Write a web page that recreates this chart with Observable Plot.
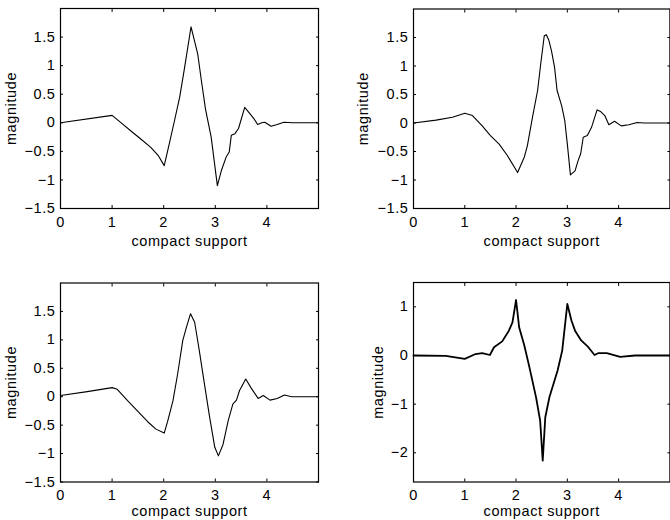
<!DOCTYPE html>
<html><head><meta charset="utf-8">
<script src="https://cdn.jsdelivr.net/npm/d3@7"></script>
<script src="https://cdn.jsdelivr.net/npm/@observablehq/plot@0.6"></script>
<style>
body{margin:0;background:#fff}
#fig{position:relative;width:670px;height:520px;overflow:hidden;background:#fff}
.p{position:absolute}
#fig svg text{font-family:'Liberation Sans', Arial, sans-serif;font-size:14.5px;letter-spacing:0.6px;fill:#000}
</style>
</head><body><div id="fig"></div>
<script>
const xLabel = "compact support";
const yLabel = "magnitude";
const xTicks = [0, 1, 2, 3, 4];
const yTicksA = [-1.5, -1, -0.5, 0, 0.5, 1, 1.5];
const yTicksB = [-2, -1, 0, 1];

const s1x = [0, 1.0, 1.2, 1.4, 1.55, 1.75, 1.9, 2.01, 2.1, 2.21, 2.31, 2.4, 2.53, 2.66, 2.73, 2.81, 2.92, 3.04, 3.12, 3.21, 3.27, 3.31, 3.38, 3.45, 3.57, 3.67, 3.75, 3.82, 3.9, 3.96, 4.08, 4.2, 4.33, 4.5, 5.0];
const s1y = [0, 0.13, -0.02, -0.17, -0.28, -0.43, -0.58, -0.75, -0.4, 0.04, 0.45, 0.94, 1.68, 1.2, 0.74, 0.24, -0.25, -1.1, -0.83, -0.6, -0.51, -0.22, -0.19, -0.1, 0.27, 0.16, 0.07, -0.03, 0.0, 0.01, -0.06, -0.03, 0.01, 0, 0];

const s2x = [0, 0.44, 0.76, 1.0, 1.15, 1.34, 1.5, 1.67, 1.83, 2.03, 2.16, 2.22, 2.32, 2.42, 2.48, 2.55, 2.59, 2.64, 2.69, 2.75, 2.8, 2.89, 2.95, 3.0, 3.06, 3.15, 3.21, 3.26, 3.31, 3.39, 3.47, 3.58, 3.65, 3.73, 3.81, 3.92, 4.05, 4.2, 4.36, 4.5, 5];
const s2y = [0, 0.05, 0.10, 0.17, 0.13, -0.05, -0.22, -0.37, -0.57, -0.87, -0.6, -0.4, 0.1, 0.57, 1.03, 1.53, 1.55, 1.45, 1.27, 0.98, 0.57, 0.30, 0.04, -0.37, -0.91, -0.84, -0.66, -0.54, -0.25, -0.22, -0.08, 0.23, 0.2, 0.13, -0.03, 0.03, -0.05, -0.03, 0.01, 0, 0];

const s3x = [0, 0.52, 1.0, 1.1, 1.3, 1.49, 1.69, 1.85, 2.01, 2.08, 2.18, 2.27, 2.37, 2.44, 2.52, 2.6, 2.69, 2.79, 2.89, 2.99, 3.06, 3.15, 3.25, 3.34, 3.41, 3.47, 3.59, 3.69, 3.83, 3.93, 4.06, 4.2, 4.34, 4.48, 5];
const s3y = [0.02, 0.09, 0.16, 0.13, -0.07, -0.25, -0.44, -0.57, -0.64, -0.42, -0.07, 0.40, 0.99, 1.22, 1.46, 1.31, 0.81, 0.22, -0.36, -0.89, -1.04, -0.84, -0.42, -0.13, -0.06, 0.11, 0.31, 0.16, -0.03, 0.02, -0.06, -0.03, 0.03, 0, 0];

const s4x = [0, 0.63, 1.0, 1.21, 1.34, 1.49, 1.57, 1.73, 1.86, 1.93, 2.0, 2.06, 2.16, 2.26, 2.39, 2.47, 2.52, 2.57, 2.65, 2.81, 2.9, 3.0, 3.08, 3.15, 3.27, 3.41, 3.53, 3.61, 3.77, 4.03, 4.32, 5];
const s4y = [0, -0.01, -0.07, 0.03, 0.05, 0.01, 0.17, 0.29, 0.51, 0.68, 1.14, 0.58, 0.21, -0.24, -0.86, -1.34, -2.16, -1.27, -0.86, -0.31, 0.10, 1.06, 0.72, 0.51, 0.31, 0.17, 0.01, 0.05, 0.05, -0.03, 0, 0];

const fmt = d => (d < 0 ? "\u2212" : "") + Math.abs(d);
const FS = 14.5;

function panel({xs, ys, yDomain, yTicks, left, top, mt, mb, ml, mr, yDx, xDy, sw}) {
  const data = xs.map((x, i) => ({x, y: ys[i]}));
  const chart = Plot.plot({
    width: 335, height: 260,
    marginTop: mt, marginBottom: mb, marginLeft: ml, marginRight: mr,
    style: {fontFamily: "'Liberation Sans', Arial, sans-serif", fontSize: FS + "px", color: "#000", background: "transparent"},
    x: {domain: [0, 5]},
    y: {domain: yDomain},
    marks: [
      Plot.line(data, {x: "x", y: "y", stroke: "#000", strokeWidth: sw}),
      Plot.axisX({anchor: "bottom", ticks: xTicks, tickSize: -3, tickPadding: 11, tickFormat: fmt, label: null, fontSize: FS}),
      Plot.axisX({anchor: "top", ticks: xTicks, tickSize: -3, tickFormat: () => "", label: null}),
      Plot.axisY({anchor: "left", ticks: yTicks, tickSize: -3, tickPadding: 8, tickFormat: fmt, label: null, fontSize: FS}),
      Plot.axisY({anchor: "right", ticks: yTicks, tickSize: -3, tickFormat: () => "", label: null}),
      Plot.frame({stroke: "#000", strokeWidth: 1.2}),
      Plot.text([xLabel], {text: d => d, frameAnchor: "bottom", lineAnchor: "middle", textAnchor: "middle", dy: xDy, fontSize: FS, fill: "#000"}),
      Plot.text([yLabel], {text: d => d, frameAnchor: "left", lineAnchor: "middle", textAnchor: "middle", dx: yDx, rotate: -90, fontSize: FS, fill: "#000"})
    ]
  });
  chart.classList.add("p");
  chart.style.left = left + "px";
  chart.style.top = top + "px";
  document.getElementById("fig").appendChild(chart);
}

panel({xs: s1x, ys: s1y, yDomain: [-1.5, 2], yTicks: yTicksA, left: 0, top: 0, mt: 8, mb: 52, ml: 60, mr: 17, yDx: -49, xDy: 32.5, sw: 1.1});
panel({xs: s2x, ys: s2y, yDomain: [-1.5, 2], yTicks: yTicksA, left: 335, top: 0, mt: 8.5, mb: 52, ml: 78, mr: 0.6, yDx: -50, xDy: 32.5, sw: 1.1});
panel({xs: s3x, ys: s3y, yDomain: [-1.5, 2], yTicks: yTicksA, left: 0, top: 260, mt: 22.5, mb: 38.5, ml: 60, mr: 17, yDx: -49, xDy: 29.5, sw: 1.1});
panel({xs: s4x, ys: s4y, yDomain: [-2.6, 1.5], yTicks: yTicksB, left: 335, top: 260, mt: 22, mb: 38.5, ml: 78, mr: 0.6, yDx: -35, xDy: 29.5, sw: 1.8});
</script>
</body></html>
